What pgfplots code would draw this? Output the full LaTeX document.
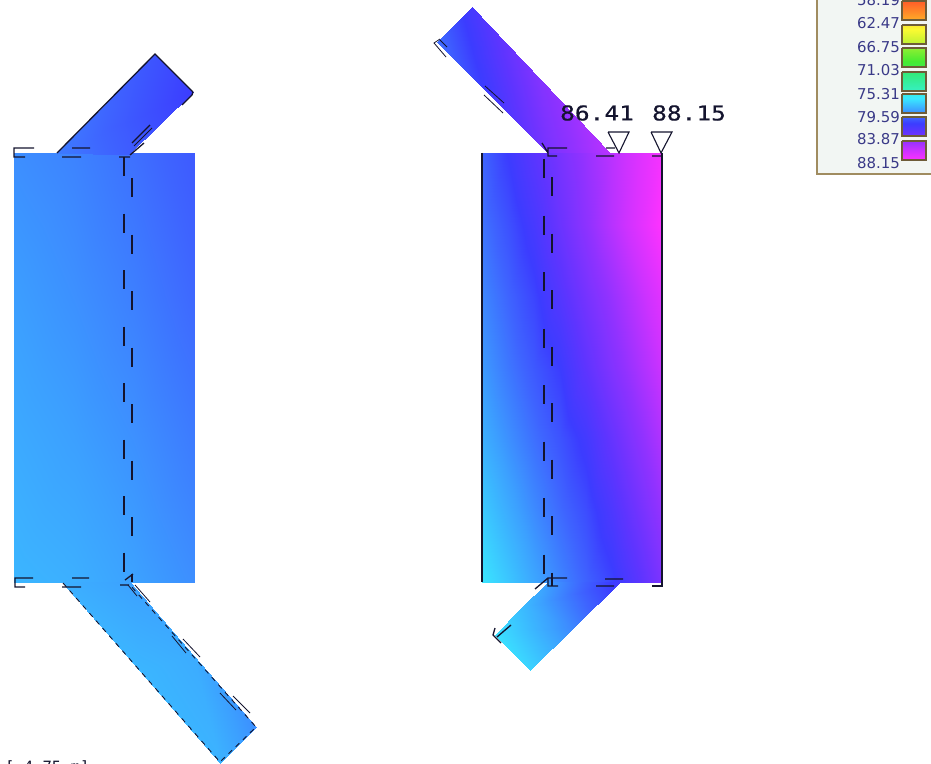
\documentclass[border=0pt]{standalone}
\usepackage{fontspec}
\setmainfont{DejaVu Sans}
\newfontfamily\monof{DejaVu Sans Mono}
\newfontfamily\monob[FakeBold=0.5]{DejaVu Sans Mono}
\usepackage{pgfplots}
\pgfplotsset{compat=1.18}
\definecolor{ink}{HTML}{14142E}
\definecolor{legtxt}{HTML}{3A3A88}
\definecolor{legbg}{HTML}{F2F6F3}
\definecolor{legframe}{HTML}{A08C60}
\definecolor{swframe}{HTML}{6E5C38}

\pgfplotsset{
  temp/.style={surf, shader=interp, point meta=\thisrow{c}},
}
\tikzset{
  ln/.style={ink, line width=1.3bp},
  tx/.style={legtxt, font=\fontsize{15}{15}\selectfont, anchor=east, inner sep=0pt},
}

\begin{document}
\begin{tikzpicture}
\useasboundingbox (0,0) rectangle (931bp,764bp);
\clip (0,0) rectangle (931bp,764bp);
\begin{axis}[
    at={(0,0)}, anchor=south west,
    scale only axis, width=931bp, height=764bp,
    xmin=0, xmax=931, ymin=0, ymax=764,
    y dir=reverse, hide axis, clip=false,
    unbounded coords=jump,
    point meta min=58.19, point meta max=88.15,
    % positions are (temperature - 58.19) * 100
    colormap={temps}{
      rgb255(0pt)=(255,50,40) rgb255(214pt)=(255,120,40) rgb255(428pt)=(255,190,40)
      rgb255(642pt)=(250,250,50) rgb255(856pt)=(180,240,50) rgb255(1070pt)=(70,235,50)
      rgb255(1284pt)=(50,235,120) rgb255(1498pt)=(55,240,200) rgb255(1712pt)=(58,232,255)
      rgb255(1926pt)=(60,160,255) rgb255(2081pt)=(62,100,255) rgb255(2201pt)=(60,60,255)
      rgb255(2354pt)=(95,52,255) rgb255(2568pt)=(145,50,255) rgb255(2782pt)=(205,50,255)
      rgb255(2996pt)=(255,50,255)
    },
]
% left section, web
\addplot[temp, mesh/cols=4] table {
x y c
14 153 77.9
74 153 78.2
134 153 78.7
194 153 79.3
14 296 77.5
74 296 77.85
134 296 78.3
194 296 78.9
14 439 77.15
74 439 77.45
134 439 77.85
194 439 78.4
14 582 76.8
74 582 77.0
134 582 77.4
194 582 77.9
};
% left section, upper arm
\addplot[temp, mesh/cols=2] table {
x y c
155 54 79.5
193 92 80.2
57 153 78.4
128 155 79.2
};
% left section, lower arm
\addplot[temp, mesh/cols=2] table {
x y c
62 582 77.0
130 582 77.4
141 672 76.8
193 655 77.1
220 763 76.9
256 727 77.9
};
% right section, web
\addplot[temp, mesh/cols=8] table {
x y c
482 153 79.0
508 153 80.25
534 153 81.5
560 153 82.8
586 153 84.1
612 153 85.35
637 153 86.6
662 153 87.8
482 225 78.6
508 225 79.56
534 225 80.7
560 225 82.2
586 225 83.7
612 225 85.25
637 225 86.7
662 225 88.15
482 296 78.1
508 296 79.0
534 296 79.95
560 296 81.25
586 296 82.7
612 296 84.1
637 296 85.5
662 296 86.9
482 368 77.6
508 368 78.5
534 368 79.35
560 368 80.2
586 368 81.7
612 368 83.2
637 368 84.6
662 368 86.0
482 439 77.0
508 439 77.85
534 439 78.7
560 439 79.5
586 439 80.5
612 439 82.0
637 439 83.5
662 439 85.0
482 511 76.2
508 511 77.1
534 511 78.0
560 511 78.85
586 511 79.7
612 511 80.95
637 511 82.45
662 511 84.0
482 582 75.4
508 582 76.3
534 582 77.25
560 582 78.15
586 582 79.05
612 582 80.0
637 582 81.4
662 582 83.0
};
% right section, upper arm
\addplot[temp, mesh/cols=2] table {
x y c
437 42 78.7
472 7 80.7
492 97 80.5
541 80 83.3
548 153 82.8
610 153 85.3
};
% right section, lower arm
\addplot[temp, mesh/cols=2] table {
x y c
548 582 77.5
620 582 80.6
521 608 76.6
575 626 78.2
495 635 75.5
530 670 75.9
};
% left section outlines
\addplot[ln] coordinates {(57,153) (155,54) (193,92)};
\addplot[ln, dash pattern=on 19bp off 37.5bp] coordinates {(124,157) (124,582)};
\addplot[ln, dash pattern=on 19bp off 37.5bp] coordinates {(132,178) (132,582)};
\addplot[ln] coordinates {
  (34,148) (14,148) (14,157) (25,157) (nan,nan)
  (72,148) (90,148) (nan,nan) (62,157) (81,157) (nan,nan)
  (119,157) (130,157) (nan,nan)
  (130,155) (144,143) (nan,nan) (132,143) (150,125) (nan,nan)
  (182,105) (192,95) (193,92) (nan,nan)
  (33,578) (15,578) (15,587) (25,587) (nan,nan)
  (62,587) (81,587) (nan,nan) (72,578) (89,578) (nan,nan)
  (120,585) (129,585) (nan,nan) (125,580) (133,574)
};
\addplot[ink, line width=0.8bp] coordinates {
  (128,585) (137,596) (nan,nan) (135,585) (150,602) (nan,nan)
  (172,636) (186,653) (nan,nan) (183,639) (200,657) (nan,nan)
  (220,693) (236,710) (nan,nan) (233,696) (250,713) (nan,nan)
  (134,146) (152,128)
};
\addplot[ink, line width=0.9bp, dash pattern=on 5bp off 5bp] coordinates {(63,583) (220,762) (256,727) (130,585)};
% right section outlines
\addplot[ln] coordinates {(482,153) (482,582)};
\addplot[ln] coordinates {(662,153) (662,586) (652,586)};
\addplot[ln, dash pattern=on 19bp off 37.5bp] coordinates {(544,159) (544,582)};
\addplot[ln, dash pattern=on 19bp off 37.5bp] coordinates {(552,177) (552,586)};
\addplot[ln] coordinates {
  (567,148) (548,148) (548,156) (557,156) (nan,nan)
  (542,143) (548,153) (nan,nan)
  (596,156) (614,156) (nan,nan) (606,148) (615,148) (nan,nan)
  (652,156) (662,156) (nan,nan)
  (567,578) (548,578) (548,586) (558,586) (nan,nan)
  (596,586) (614,586) (nan,nan) (605,579) (623,579) (nan,nan)
  (535,589) (548,578) (nan,nan)
  (497,637) (511,625) (nan,nan)
  (495,628) (493,635) (501,643)
};
\addplot[ink, line width=0.8bp] coordinates {
  (440,39) (434,43) (446,57) (nan,nan) (440,40) (447,47) (nan,nan)
  (485,86) (504,103) (nan,nan) (484,95) (503,113)
};
% level markers
\addplot[ink, line width=1.1bp] coordinates {(608,132) (629,132) (619,153) (608,132)};
\addplot[ink, line width=1.1bp] coordinates {(651,132) (672,132) (661,153) (651,132)};
\node[ink, xscale=1.2, inner sep=0pt, font=\monob\fontsize{20.5}{20.5}\selectfont] at (axis cs:597,113) {86.41};
\node[ink, xscale=1.2, inner sep=0pt, font=\monob\fontsize{20.5}{20.5}\selectfont] at (axis cs:689,113) {88.15};
\node[ink, anchor=base west, inner sep=0pt, font=\monof\fontsize{15.6}{15.6}\selectfont] at (axis cs:5,772.4) {[ 4.75 m]};
% colour legend
\addplot[fill=legbg, draw=legframe, line width=1.5bp] coordinates {(940,174) (817,174) (817,-10) (940,-10)} -- cycle;
\addplot[temp, mesh/cols=2] table {
x y c
902 1 59.5
926 1 59.5
902 20 61.9
926 20 61.9
};
\addplot[temp, mesh/cols=2] table {
x y c
902 25 64.0
926 25 64.0
902 44 66.5
926 44 66.5
};
\addplot[temp, mesh/cols=2] table {
x y c
902 48 67.5
926 48 67.5
902 67 69.5
926 67 69.5
};
\addplot[temp, mesh/cols=2] table {
x y c
902 72 71.0
926 72 71.0
902 91 73.0
926 91 73.0
};
\addplot[temp, mesh/cols=2] table {
x y c
902 94 74.5
926 94 74.5
902 113 78.0
926 113 78.0
};
\addplot[temp, mesh/cols=2] table {
x y c
902 117 79.0
926 117 79.0
902 136 82.5
926 136 82.5
};
\addplot[temp, mesh/cols=2] table {
x y c
902 141 84.0
926 141 84.0
902 160 88.0
926 160 88.0
};
\addplot[swframe, line width=1.1bp] coordinates {
  (902,1) (926,1) (926,20) (902,20) (902,1) (nan,nan)
  (902,25) (926,25) (926,44) (902,44) (902,25) (nan,nan)
  (902,48) (926,48) (926,67) (902,67) (902,48) (nan,nan)
  (902,72) (926,72) (926,91) (902,91) (902,72) (nan,nan)
  (902,94) (926,94) (926,113) (902,113) (902,94) (nan,nan)
  (902,117) (926,117) (926,136) (902,136) (902,117) (nan,nan)
  (902,141) (926,141) (926,160) (902,160) (902,141)
};
\node[tx] at (axis cs:900,0) {58.19};
\node[tx] at (axis cs:900,23) {62.47};
\node[tx] at (axis cs:900,47) {66.75};
\node[tx] at (axis cs:900,70) {71.03};
\node[tx] at (axis cs:900,94) {75.31};
\node[tx] at (axis cs:900,117) {79.59};
\node[tx] at (axis cs:900,139) {83.87};
\node[tx] at (axis cs:900,163) {88.15};
\end{axis}
\end{tikzpicture}
\end{document}
